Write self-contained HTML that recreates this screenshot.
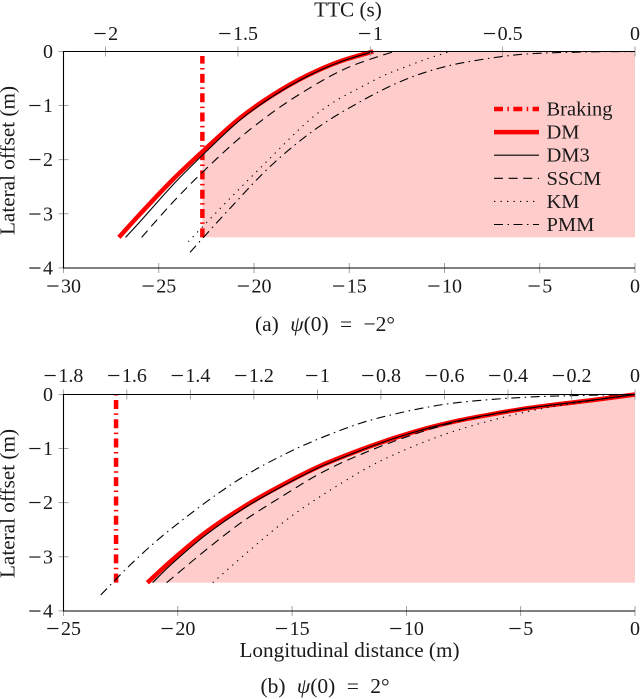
<!DOCTYPE html>
<html lang="en">
<head>
<meta charset="utf-8">
<title>Lateral offset charts</title>
<style>
html,body{margin:0;padding:0;background:#fff;width:640px;height:699px;overflow:hidden}
svg{display:block;position:absolute;left:0;top:0}
text{font-family:"Liberation Serif",serif;fill:#1a1a1a}
</style>
</head>
<body>
<svg id="figure" width="640" height="699" viewBox="0 0 640 699" xmlns="http://www.w3.org/2000/svg">
  <g id="chart-a"></g>
  <g id="chart-b"></g>
  <g id="legend"></g>
  <text x="325" y="331" text-anchor="middle" font-size="21.5" word-spacing="6">(a) <tspan font-style="italic">ψ</tspan>(0) = −2°</text>
  <text x="325" y="693" text-anchor="middle" font-size="21.5" word-spacing="6">(b) <tspan font-style="italic">ψ</tspan>(0) = 2°</text>
</svg>
<script>
// Chart (a) psi(0) = -2 deg
const aBrakingX = -22.71;
const aBrakingTop = -0.083;
const aFloor = -3.435;
const aXTicks = [-30, -25, -20, -15, -10, -5, 0];
const aTopTicks = [-2, -1.5, -1, -0.5, 0];
const aYTicks = [0, -1, -2, -3, -4];
const aDmX = [-27.09, -25.98, -24.23, -22.48, -20.73, -18.99, -17.23, -15.49, -13.74];
const aDmY = [-3.435, -3.004, -2.357, -1.778, -1.229, -0.798, -0.447, -0.182, 0];
const aDm3X = [-26.74, -25.98, -24.23, -22.48, -20.73, -18.99, -17.23, -15.49, -13.74];
const aDm3Y = [-3.435, -3.145, -2.455, -1.839, -1.266, -0.823, -0.465, -0.194, 0];
const aSscmX = [-25.9, -24.15, -22.4, -20.56, -18.55, -16.45, -14.96, -13.39, -12.6];
const aSscmY = [-3.435, -2.745, -2.129, -1.543, -1.007, -0.545, -0.28, -0.083, 0];
const aKmX = [-23.45, -21.43, -19.34, -17.23, -15.84, -14.44, -13.21, -12.16, -10.94, -9.71];
const aKmY = [-3.515, -2.776, -2.036, -1.309, -0.94, -0.669, -0.447, -0.299, -0.139, 0];
const aPmmX = [-23.36, -21.26, -19.07, -16.71, -14.26, -12.16, -10.24, -8.31, -5.69, -2.19, 0];
const aPmmY = [-3.712, -2.899, -2.098, -1.42, -0.896, -0.533, -0.305, -0.163, -0.046, -0.006, 0];

// Chart (b) psi(0) = 2 deg
const bBrakingX = -22.7;
const bBrakingTop = 0;
const bFloor = -3.478;
const bXTicks = [-25, -20, -15, -10, -5, 0];
const bTopTicks = [-1.8, -1.6, -1.4, -1.2, -1, -0.8, -0.6, -0.4, -0.2, 0];
const bYTicks = [0, -1, -2, -3, -4];
const bDmX = [-21.33, -20.2, -18.74, -16.99, -15.38, -13.78, -12.03, -10.57, -9.11, -7.66, -6.2, -4.74, -3.28, -1.82, 0];
const bDmY = [-3.478, -3.041, -2.535, -2.043, -1.66, -1.322, -1.026, -0.81, -0.625, -0.478, -0.36, -0.256, -0.176, -0.102, 0];
const bDm3X = [-21.1, -20.2, -18.74, -16.99, -15.38, -13.78, -12.03, -10.57, -9.11, -7.66, -6.2, -4.74, -3.28, -1.82, 0];
const bDm3Y = [-3.478, -3.108, -2.585, -2.073, -1.685, -1.34, -1.038, -0.816, -0.63, -0.48, -0.36, -0.256, -0.176, -0.102, 0];
const bSscmX = [-20.49, -18.81, -17.21, -15.46, -13.71, -11.88, -9.84, -7.66, -4.74, -1.82, 0];
const bSscmY = [-3.478, -2.887, -2.363, -1.888, -1.445, -1.087, -0.761, -0.49, -0.262, -0.102, 0];
const bKmX = [-18.47, -16.84, -15.31, -13.78, -11.88, -10.64, -9.19, -7.66, -5.76, -4.01, -1.97, 0];
const bKmY = [-3.478, -2.874, -2.338, -1.888, -1.396, -1.131, -0.872, -0.644, -0.422, -0.256, -0.12, 0];
const bPmmX = [-23.37, -22.16, -20.92, -19.61, -18.23, -16.84, -15.24, -13.78, -12.03, -10.57, -9.11, -7.66, -5.61, -3.43, 0];
const bPmmY = [-3.706, -3.182, -2.702, -2.258, -1.827, -1.445, -1.087, -0.81, -0.533, -0.367, -0.237, -0.145, -0.071, -0.028, 0];

const legendLabels = ['Braking', 'DM', 'DM3', 'SSCM', 'KM', 'PMM'];

const NS = 'http://www.w3.org/2000/svg';
const STYLES = {
  braking: {stroke: '#ff0000', width: 4.5, dash: '9 4.4 1.5 4.4'},
  dm: {stroke: '#ff0000', width: 4.5, dash: ''},
  dm3: {stroke: '#000000', width: 1.1, dash: ''},
  sscm: {stroke: '#000000', width: 1.1, dash: '9 5.6'},
  km: {stroke: '#000000', width: 1.1, dash: '1.3 5.2'},
  pmm: {stroke: '#000000', width: 1.1, dash: '9 4.5 1.5 4.5'}
};

function make(tag, parent, attrs) {
  const el = document.createElementNS(NS, tag);
  for (const k in attrs) el.setAttribute(k, attrs[k]);
  parent.appendChild(el);
  return el;
}

function smoothPath(pts) {
  let d = 'M' + pts[0][0].toFixed(2) + ' ' + pts[0][1].toFixed(2);
  for (let i = 0; i < pts.length - 1; i++) {
    const p0 = pts[Math.max(i - 1, 0)], p1 = pts[i], p2 = pts[i + 1], p3 = pts[Math.min(i + 2, pts.length - 1)];
    const c1x = p1[0] + (p2[0] - p0[0]) / 6, c1y = p1[1] + (p2[1] - p0[1]) / 6;
    const c2x = p2[0] - (p3[0] - p1[0]) / 6, c2y = p2[1] - (p3[1] - p1[1]) / 6;
    d += 'C' + c1x.toFixed(2) + ' ' + c1y.toFixed(2) + ' ' + c2x.toFixed(2) + ' ' + c2y.toFixed(2) + ' ' + p2[0].toFixed(2) + ' ' + p2[1].toFixed(2);
  }
  return d;
}

function tickLabel(parent, value, x, y, anchor) {
  const t = make('text', parent, {x: x, y: y, 'text-anchor': anchor, 'font-size': 20});
  
  
  const s = String(Math.abs(value));
  if (value < 0) {
    const m = make('tspan', t, {'font-size': 24, dy: 1.5});
    m.textContent = '\u2212';
    const n = make('tspan', t, {dy: -1.5, dx: 1.5});
    n.textContent = s;
  } else {
    t.textContent = s;
  }
  return t;
}

function drawChart(root, cfg) {
  const sx = v => cfg.x1 + (v - cfg.xMax) * cfg.xUnit;
  const sy = v => cfg.y0 - v * cfg.yUnit;
  const st = v => cfg.x1 + v * cfg.tUnit;

  // Filled region between the DM curve and the floor
  const pts = [];
  cfg.dmX.forEach((x, i) => { if (x >= cfg.brakingX) pts.push([x, cfg.dmY[i]]); });
  if (cfg.dmX[0] < cfg.brakingX) {
    let k = cfg.dmX.findIndex(x => x >= cfg.brakingX);
    const f = (cfg.brakingX - cfg.dmX[k - 1]) / (cfg.dmX[k] - cfg.dmX[k - 1]);
    pts.unshift([cfg.brakingX, cfg.dmY[k - 1] + f * (cfg.dmY[k] - cfg.dmY[k - 1])]);
  }
  const px = pts.map(p => [sx(p[0]), sy(p[1])]);
  let fillD = smoothPath(px);
  fillD += 'L' + sx(0) + ' ' + sy(0) + 'L' + sx(0) + ' ' + sy(cfg.floor) + 'L' + px[0][0] + ' ' + sy(cfg.floor) + 'Z';
  const fill = make('path', root, {d: fillD, fill: '#ffcccc', stroke: 'none'});
  
  

  // Braking vertical line (dash pattern runs from the floor upward)
  const br = make('line', root, {x1: sx(cfg.brakingX), x2: sx(cfg.brakingX), y1: sy(cfg.floor), y2: sy(cfg.brakingTop), stroke: STYLES.braking.stroke, 'stroke-width': STYLES.braking.width, 'stroke-dasharray': STYLES.braking.dash});
  
  

  // Model curves
  cfg.series.forEach(s => {
    const st2 = STYLES[s.key];
    const p = make('path', root, {d: smoothPath(s.xs.map((x, i) => [sx(x), sy(s.ys[i])])), fill: 'none', stroke: st2.stroke, 'stroke-width': st2.width, 'stroke-dasharray': st2.dash});
    
    
  });

  // Ticks
  const tickStyle = {stroke: '#8c8c8c', 'stroke-width': 0.8};
  cfg.xTicks.forEach(v => {
    const l = make('line', root, Object.assign({x1: sx(v), x2: sx(v), y1: cfg.yBottom - 5, y2: cfg.yBottom + 5}, tickStyle));
    
    
    tickLabel(root, v, sx(v), cfg.xLabelY, 'middle');
  });
  cfg.topTicks.forEach(v => {
    const l = make('line', root, Object.assign({x1: st(v), x2: st(v), y1: cfg.y0 - 5, y2: cfg.y0 + 5}, tickStyle));
    
    
    tickLabel(root, v, st(v), cfg.topLabelY, 'middle');
  });
  cfg.yTicks.forEach(v => {
    const l = make('line', root, Object.assign({x1: cfg.x0 - 5, x2: cfg.x0 + 5, y1: sy(v), y2: sy(v)}, tickStyle));
    
    
    tickLabel(root, v, 53, sy(v) + 6.5, 'end');
  });

  // Spines
  const spine = make('path', root, {d: 'M' + cfg.x1 + ' ' + cfg.y0 + 'H' + cfg.x0 + 'V' + cfg.yBottom + 'H' + cfg.x1, fill: 'none', stroke: '#000', 'stroke-width': 1.1});
  
  

  // Axis titles
  const yt = make('text', root, {transform: 'translate(14.5 ' + (cfg.y0 + 109) + ') rotate(-90)', 'text-anchor': 'middle', 'font-size': 21.2});
  
  
  yt.textContent = 'Lateral offset (m)';
  if (cfg.topTitle) {
    const tt = make('text', root, {x: 348, y: 16.5, 'text-anchor': 'middle', 'font-size': 21.2});
    
    
    tt.textContent = cfg.topTitle;
  }
  if (cfg.bottomTitle) {
    const bt = make('text', root, {x: 349.5, y: 657, 'text-anchor': 'middle', 'font-size': 21.2});
    
    
    bt.textContent = cfg.bottomTitle;
  }
}

drawChart(document.getElementById('chart-a'), {
  x0: 63.5, x1: 635, xMax: 0, xUnit: 19.05, tUnit: 264.7,
  y0: 51.5, yBottom: 268, yUnit: 54.1,
  xLabelY: 292.5, topLabelY: 40,
  brakingX: aBrakingX, brakingTop: aBrakingTop, floor: aFloor,
  dmX: aDmX, dmY: aDmY,
  xTicks: aXTicks, topTicks: aTopTicks, yTicks: aYTicks,
  topTitle: 'TTC (s)', bottomTitle: '',
  series: [
    {key: 'dm', xs: aDmX, ys: aDmY},
    {key: 'dm3', xs: aDm3X, ys: aDm3Y},
    {key: 'sscm', xs: aSscmX, ys: aSscmY},
    {key: 'km', xs: aKmX, ys: aKmY},
    {key: 'pmm', xs: aPmmX, ys: aPmmY}
  ]
});

drawChart(document.getElementById('chart-b'), {
  x0: 63.5, x1: 635, xMax: 0, xUnit: 22.86, tUnit: 317.6,
  y0: 394.5, yBottom: 611, yUnit: 54.1,
  xLabelY: 635, topLabelY: 382,
  brakingX: bBrakingX, brakingTop: bBrakingTop, floor: bFloor,
  dmX: bDmX, dmY: bDmY,
  xTicks: bXTicks, topTicks: bTopTicks, yTicks: bYTicks,
  topTitle: '', bottomTitle: 'Longitudinal distance (m)',
  series: [
    {key: 'dm', xs: bDmX, ys: bDmY},
    {key: 'dm3', xs: bDm3X, ys: bDm3Y},
    {key: 'sscm', xs: bSscmX, ys: bSscmY},
    {key: 'km', xs: bKmX, ys: bKmY},
    {key: 'pmm', xs: bPmmX, ys: bPmmY}
  ]
});

// Legend
const legendRoot = document.getElementById('legend');
const legendKeys = ['braking', 'dm', 'dm3', 'sscm', 'km', 'pmm'];
legendLabels.forEach((label, i) => {
  const y = 109 + i * 23.1;
  const s = STYLES[legendKeys[i]];
  const ln = make('line', legendRoot, {x1: 494, x2: 539, y1: y, y2: y, stroke: s.stroke, 'stroke-width': s.width, 'stroke-dasharray': s.dash});
  
  
  const tx = make('text', legendRoot, {x: 546.5, y: y + 6.5, 'font-size': 20.5});
  
  
  tx.textContent = label;
});
</script>
</body>
</html>
